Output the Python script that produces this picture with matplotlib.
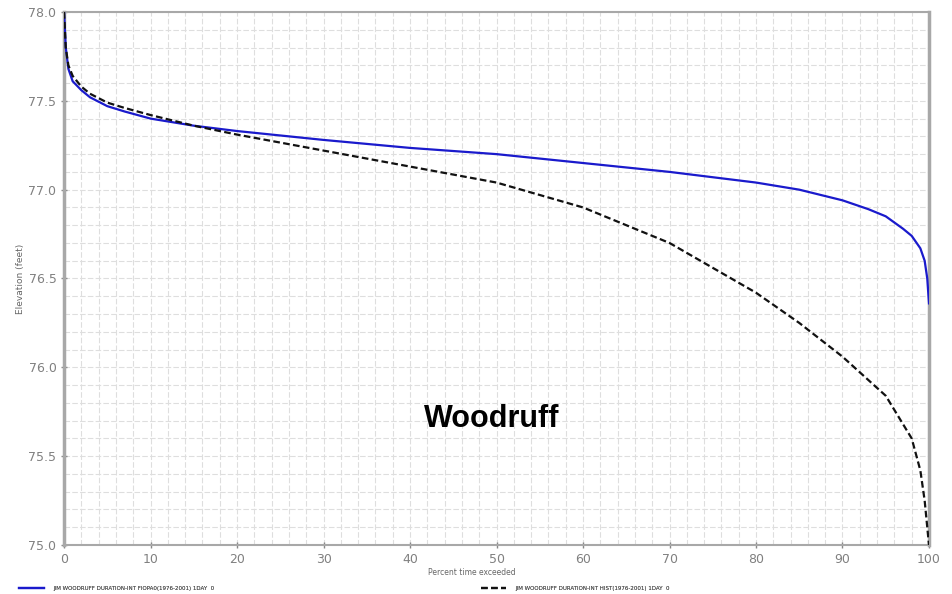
import numpy as np
import matplotlib
matplotlib.use("Agg")
import matplotlib.pyplot as plt
from matplotlib.ticker import MultipleLocator, FormatStrFormatter

# Duration curves: percent time exceeded vs elevation (ft)
pct_fiopa = [0, 0.2, 0.5, 1, 2, 3, 5, 7, 10, 15, 20, 30, 40, 50, 60, 70, 80, 85,
             90, 93, 95, 97, 98, 99, 99.5, 99.8, 100]
elev_fiopa = [78.0, 77.8, 77.68, 77.61, 77.56, 77.52, 77.47, 77.44, 77.40, 77.36,
              77.33, 77.28, 77.235, 77.20, 77.15, 77.10, 77.04, 77.0, 76.94, 76.89,
              76.85, 76.78, 76.74, 76.67, 76.6, 76.5, 76.36]

pct_hist = [0, 0.2, 0.5, 1, 2, 3, 5, 7, 10, 15, 20, 30, 40, 50, 55, 60, 65, 70,
            75, 80, 85, 90, 95, 97, 98, 99, 99.5, 100]
elev_hist = [78.0, 77.8, 77.7, 77.64, 77.58, 77.54, 77.49, 77.46, 77.42, 77.36,
             77.31, 77.22, 77.13, 77.04, 76.97, 76.90, 76.80, 76.70, 76.56, 76.42,
             76.25, 76.06, 75.84, 75.68, 75.60, 75.42, 75.25, 75.0]

label_fiopa = "JIM WOODRUFF DURATION-INT FIOPA0(1976-2001) 1DAY  0"
label_hist = "JIM WOODRUFF DURATION-INT HIST(1976-2001) 1DAY  0"

fig = plt.figure(figsize=(9.53, 5.94), dpi=100)
ax = fig.add_axes([0.0672, 0.0825, 0.9076, 0.8973])

l1, = ax.plot(pct_fiopa, elev_fiopa, color="#1a1acc", lw=1.6, zorder=3)
l2, = ax.plot(pct_hist, elev_hist, color="#111111", lw=1.6, ls=(0, (3, 1.5)), zorder=3)

ax.set_xlim(0, 100)
ax.set_ylim(75.0, 78.0)
ax.xaxis.set_major_locator(MultipleLocator(10))
ax.xaxis.set_minor_locator(MultipleLocator(2))
ax.yaxis.set_major_locator(MultipleLocator(0.5))
ax.yaxis.set_minor_locator(MultipleLocator(0.1))
ax.yaxis.set_major_formatter(FormatStrFormatter("%.1f"))

ax.grid(which="both", color="#dedede", lw=0.8, ls=(0, (5, 2)))
ax.set_axisbelow(True)

for s in ax.spines.values():
    s.set_color("#a8a8a8")
ax.spines["left"].set_linewidth(2.5)
ax.spines["bottom"].set_linewidth(1.5)
ax.spines["top"].set_linewidth(1.5)
ax.spines["right"].set_linewidth(2.5)

ax.tick_params(which="major", colors="#888888", labelsize=9, length=5,
               width=1, direction="inout", pad=3)
ax.tick_params(which="minor", length=0)
for t in ax.get_xticklabels() + ax.get_yticklabels():
    t.set_color("#808080")

fig.text(0.495, 0.037, "Percent time exceeded", fontsize=5.5, color="#666666",
         ha="center", va="center")
fig.text(0.021, 0.53, "Elevation (feet)", fontsize=6.5, color="#666666",
         ha="center", va="center", rotation=90)

ax.text(49.5, 75.71, "Woodruff", fontsize=22, fontweight="bold",
        ha="center", va="center", family="Liberation Sans")

# legend entries along the bottom of the figure
for line, lab, x0 in [(l1, label_fiopa, 0.015), (l2, label_hist, 0.5)]:
    lg = fig.legend(handles=[line], labels=[lab], loc="center left", frameon=False,
                    fontsize=4, bbox_to_anchor=(x0, 0.01), handlelength=4.5,
                    handletextpad=1.6, labelcolor="#555555")
    fig.add_artist(lg)

fig.savefig("out.png", dpi=100)
